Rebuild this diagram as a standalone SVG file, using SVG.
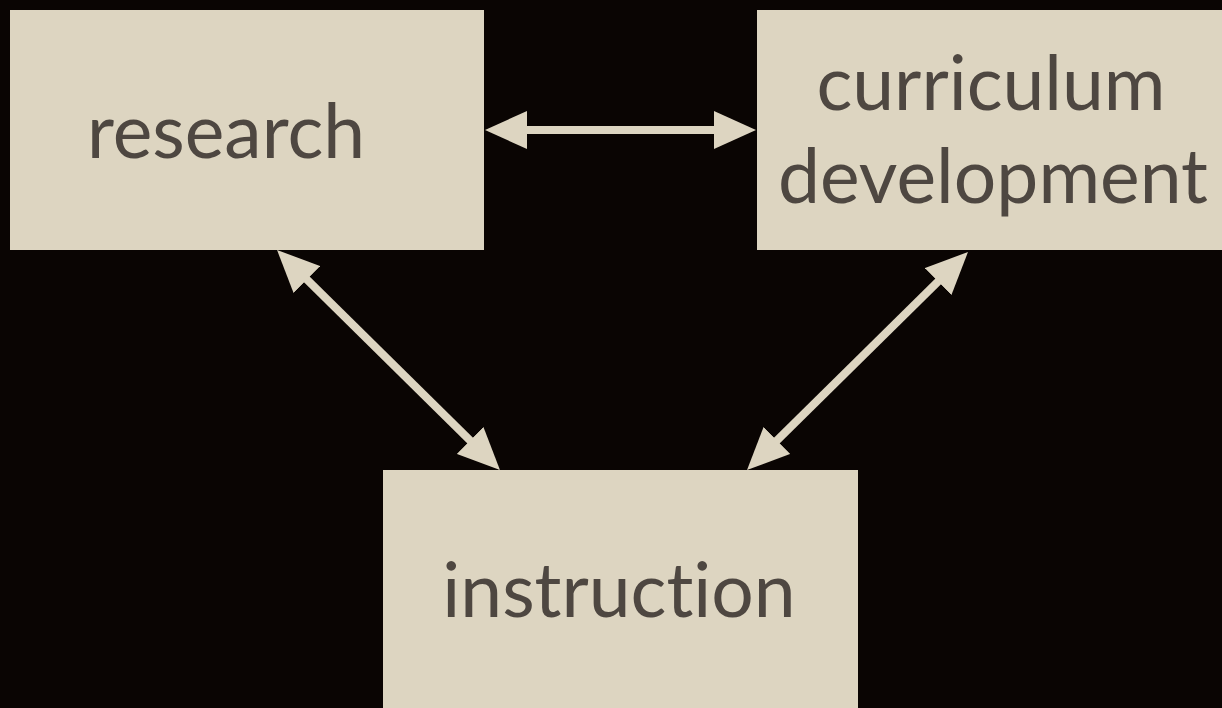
<svg xmlns="http://www.w3.org/2000/svg" width="1222" height="708" viewBox="0 0 1222 708">
<style>
.box{fill:#ddd5c1}
.lbl{font-family:Lato,"Open Sans",sans-serif;font-size:75px;fill:#4e4741;text-anchor:middle;font-variant-ligatures:none}
.con{stroke:#ddd5c1;stroke-width:8;fill:none}
</style>
<defs>
<marker id="ah" viewBox="0 0 42 38" refX="2" refY="19" markerWidth="42" markerHeight="38" markerUnits="userSpaceOnUse" orient="auto-start-reverse">
<polygon points="0,0 42,19 0,38" fill="#ddd5c1"/>
</marker>
</defs>
<rect width="1222" height="708" fill="#0a0503"/>
<g id="research">
<rect class="box" x="10" y="10" width="474" height="240"/>
<text class="lbl" x="226" y="158">research</text>
</g>
<g id="curriculum">
<rect class="box" x="757" y="10" width="470" height="240"/>
<text class="lbl" x="991" y="110">curriculum</text>
<text class="lbl" x="993" y="203">development</text>
</g>
<g id="instruction">
<rect class="box" x="383" y="470" width="475" height="245"/>
<text class="lbl" x="619" y="617">instruction</text>
</g>
<g id="connectors">
<line class="con" x1="525" y1="130" x2="716" y2="130" marker-start="url(#ah)" marker-end="url(#ah)"/>
<line class="con" x1="305.5" y1="278.1" x2="471.5" y2="441.9" marker-start="url(#ah)" marker-end="url(#ah)"/>
<line class="con" x1="939.5" y1="280.1" x2="775.5" y2="441.9" marker-start="url(#ah)" marker-end="url(#ah)"/>
</g>
</svg>
